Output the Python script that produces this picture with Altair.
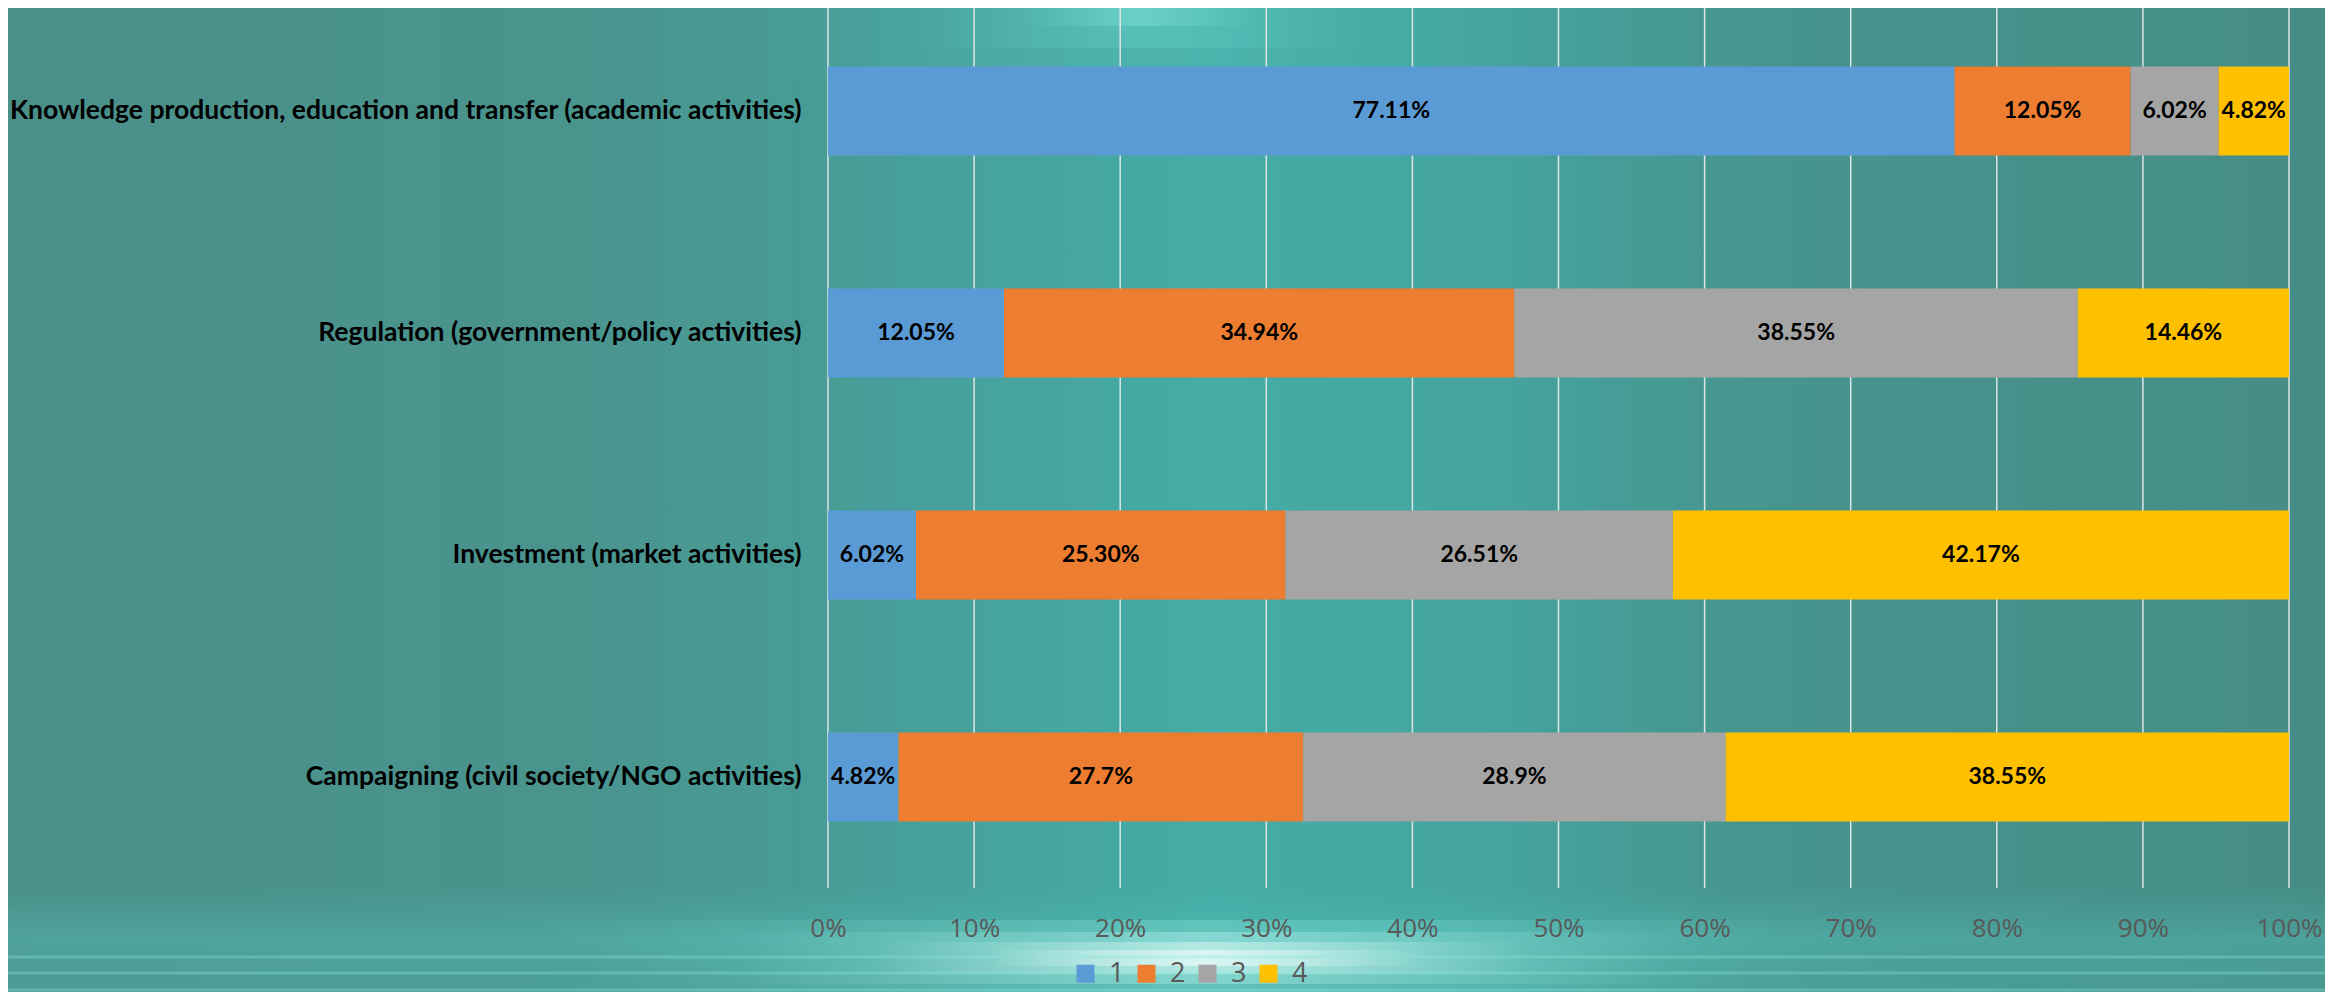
import altair as alt
import pandas as pd

categories = [
    "Knowledge production, education and transfer (academic activities)",
    "Regulation (government/policy activities)",
    "Investment (market activities)",
    "Campaigning (civil society/NGO activities)",
]
series = ["1", "2", "3", "4"]
s1 = [77.11, 12.05, 6.02, 4.82]
s2 = [12.05, 34.94, 25.30, 27.7]
s3 = [6.02, 38.55, 26.51, 28.9]
s4 = [4.82, 14.46, 42.17, 38.55]
label1 = ["77.11%", "12.05%", "6.02%", "4.82%"]
label2 = ["12.05%", "34.94%", "25.30%", "27.7%"]
label3 = ["6.02%", "38.55%", "26.51%", "28.9%"]
label4 = ["4.82%", "14.46%", "42.17%", "38.55%"]
x_ticks = [0, 0.1, 0.2, 0.3, 0.4, 0.5, 0.6, 0.7, 0.8, 0.9, 1.0]
colors = ["#5b9bd5", "#ed7d31", "#a5a5a5", "#ffc000"]

rows = []
for s, vals, labs in zip(series, [s1, s2, s3, s4], [label1, label2, label3, label4]):
    for c, v, l in zip(categories, vals, labs):
        rows.append({"cat": c, "series": s, "value": v, "label": l})
df = pd.DataFrame(rows)
ticks_df = pd.DataFrame({"t": x_ticks})
one = pd.DataFrame({"a": [0]})

PL = 820          # left padding
W = 1461          # plot width
PR = 36           # right padding
FULL_L, FULL_R = -PL, W + PR

xscale = alt.Scale(domain=[0, 1], nice=False, zero=True)
yscale = alt.Scale(domain=categories, range=[-8, 880], paddingInner=0.6, paddingOuter=0.3)

x_axis = alt.Axis(values=x_ticks, format="%", grid=False, domain=False, ticks=False,
                  labelFlush=False, labelFont="Open Sans", labelFontSize=26,
                  labelColor="#595959", labelPadding=40, labelBaseline="middle",
                  zindex=2, title=None)
y_axis = alt.Axis(domain=False, ticks=False, labelFont="Lato", labelFontWeight="bold",
                  labelFontSize=26.5, labelColor="#000000", labelPadding=27,
                  labelLimit=1400, zindex=2, title=None)


def grad_linear(stops, x1=0, y1=0, x2=1, y2=0):
    return {"gradient": "linear", "x1": x1, "y1": y1, "x2": x2, "y2": y2,
            "stops": [{"offset": o, "color": c} for o, c in stops]}


def deco(fill, x, x2, y, y2):
    return alt.Chart(one).mark_rect(fill=fill, strokeWidth=0).encode(
        x=alt.value(x), x2=alt.value(x2), y=alt.value(y), y2=alt.value(y2))


def glow(xc, y_top, y_bot, hw, rgb, alpha):
    r, g, b = rgb
    fill = grad_linear([(0.0, f"rgba({r},{g},{b},0)"), (0.5, f"rgba({r},{g},{b},{alpha})"),
                        (1.0, f"rgba({r},{g},{b},0)")])
    return deco(fill, xc - hw, xc + hw, y_top, y_bot)


base_bg = deco(grad_linear([
    (0.0, "#4b8f89"), (0.25, "#4a948e"), (0.4, "#47a09a"), (0.52, "#45aca6"),
    (0.62, "#45a6a0"), (0.75, "#47958f"), (1.0, "#468c86")]), FULL_L, FULL_R, 0, 984)

top_glows = [
    glow(312, -8, 70, 360, (110, 225, 215), 0.18),
    glow(312, -8, 40, 230, (120, 235, 225), 0.22),
    glow(312, -8, 18, 120, (150, 245, 235), 0.3),
]

bottom_band = deco(grad_linear([
    (0.0, "rgba(80,200,190,0)"), (0.5, "rgba(90,210,200,0.3)"), (1.0, "rgba(80,190,180,0.22)")],
    0, 0, 0, 1), FULL_L, FULL_R, 880, 984)

bottom_glows = [
    glow(377, 912, 984, 640, (150, 235, 225), 0.3),
    glow(377, 924, 976, 470, (190, 245, 238), 0.38),
    glow(377, 934, 966, 330, (225, 250, 246), 0.5),
    glow(377, 942, 958, 220, (245, 255, 253), 0.6),
]

floor_lines = [
    alt.Chart(one).mark_rule(color="rgba(140,230,220,0.35)", strokeWidth=3).encode(
        x=alt.value(FULL_L), x2=alt.value(FULL_R), y=alt.value(yy))
    for yy in [949, 965, 982]
]

grid = alt.Chart(ticks_df).mark_rule(color="#dce6e5", strokeWidth=1.5).encode(
    x=alt.X("t:Q", scale=xscale, axis=x_axis),
    y=alt.value(0), y2=alt.value(880))

stacked = alt.Chart(df).transform_stack(
    stack="value", groupby=["cat"], as_=["v0", "v1"],
    sort=[alt.SortField("series", order="ascending")], offset="normalize"
).transform_calculate(mid="(datum.v0 + datum.v1) / 2")

bars = stacked.mark_bar(strokeWidth=0).encode(
    y=alt.Y("cat:N", sort=categories, scale=yscale, axis=y_axis),
    x=alt.X("v0:Q", scale=xscale, axis=x_axis),
    x2="v1:Q",
    color=alt.Color("series:N", scale=alt.Scale(domain=series, range=colors),
                    legend=alt.Legend(orient="none", legendX=244, legendY=952, direction="horizontal",
                                      title=None, symbolType="square", symbolSize=324,
                                      symbolStrokeWidth=0, symbolOpacity=1, labelFont="Open Sans",
                                      labelFontSize=27, labelColor="#595959", labelOffset=10,
                                      columnPadding=8, padding=0, zindex=3)),
)

texts = stacked.mark_text(font="Lato", fontWeight="bold", fontSize=23, color="#000000").encode(
    y=alt.Y("cat:N", sort=categories, scale=yscale, axis=y_axis),
    x=alt.X("mid:Q", scale=xscale, axis=x_axis),
    text="label:N",
)

chart = alt.layer(base_bg, *top_glows, bottom_band, *bottom_glows, *floor_lines, grid, bars, texts).properties(
    width=W, height=880,
    padding={"left": PL, "top": 0, "right": PR, "bottom": 104},
    autosize=alt.AutoSizeParams(type="none"),
).configure_view(strokeWidth=0)

chart.save("out.html", embed_options={"renderer": "svg", "actions": False})
